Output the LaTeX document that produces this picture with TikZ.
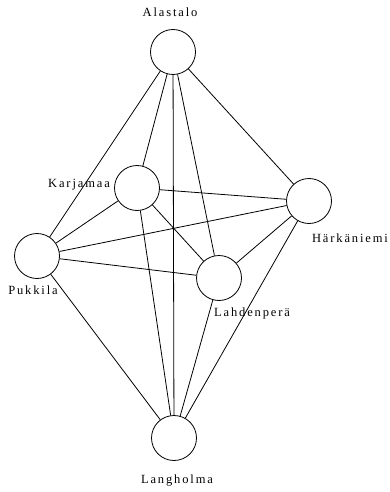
\documentclass[tikz,border=0pt]{standalone}
\usepackage{fontspec}
\setmainfont{Liberation Serif}[LetterSpace=15]
\usetikzlibrary{positioning}

\begin{document}
\begin{tikzpicture}[x=1pt,y=-1pt,
    every node/.style={font=\fontsize{12.5}{14}\selectfont},
    farm/.style={draw,circle,minimum size=45pt,inner sep=0pt,line width=0.8pt},
    road/.style={line width=0.8pt}]
  \useasboundingbox (0,0) rectangle (389,492);

  % Farms
  \node[farm] (alastalo)   at (173,52)  {};
  \node[farm] (karjamaa)   at (137,188) {};
  \node[farm] (harkaniemi) at (309,201) {};
  \node[farm] (pukkila)    at (37,256)  {};
  \node[farm] (lahdenpera) at (219,278) {};
  \node[farm] (langholma)  at (174,438) {};

  % Names
  \node (alastalo-name)   at (170,12)  {Alastalo};
  \node (karjamaa-name)   at (79,185)  {Karjamaa};
  \node (harkaniemi-name) at (350,238) {Härkäniemi};
  \node (pukkila-name)    at (33,290)  {Pukkila};
  \node (lahdenpera-name) at (252,313) {Lahdenperä};
  \node (langholma-name)  at (177,481) {Langholma};

  % Every farm joined to every other
  \foreach \a/\b in {alastalo/karjamaa,alastalo/harkaniemi,alastalo/pukkila,
      alastalo/lahdenpera,alastalo/langholma,
      karjamaa/harkaniemi,karjamaa/pukkila,karjamaa/lahdenpera,karjamaa/langholma,
      harkaniemi/pukkila,harkaniemi/lahdenpera,harkaniemi/langholma,
      pukkila/lahdenpera,pukkila/langholma,
      lahdenpera/langholma}
    \draw[road] (\a) -- (\b);
\end{tikzpicture}
\end{document}
